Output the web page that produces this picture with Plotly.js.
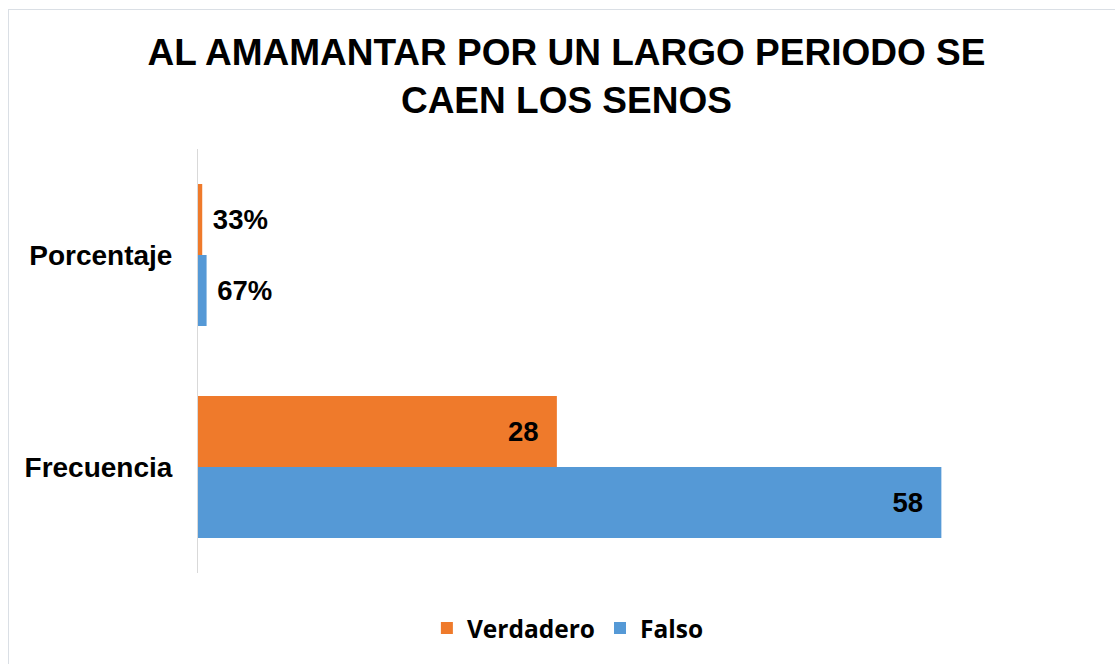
<!DOCTYPE html>
<html>
<head>
<meta charset="utf-8">
<script src="https://cdn.plot.ly/plotly-3.0.1.min.js"></script>
<style>
  html, body { margin: 0; padding: 0; background: #ffffff; }
  #wrap { position: relative; width: 1115px; height: 664px; overflow: hidden; }
  #frame { position: absolute; left: 8px; top: 9px; width: 1120px; height: 700px; border: 1px solid #DADFE5; box-sizing: border-box; pointer-events: none; }
  #chart { position: absolute; left: 0; top: 0; width: 1115px; height: 664px; }
</style>
</head>
<body>
<div id="wrap">
  <div id="frame"></div>
  <div id="chart"></div>
</div>
<script>
const categories = ['Frecuencia', 'Porcentaje'];
const seriesNames = ['Falso', 'Verdadero'];
const falsoValues = [58, 0.67];
const verdaderoValues = [28, 0.33];
const falsoLabels = ['58', '67%'];
const verdaderoLabels = ['28', '33%'];
const chartTitle = 'AL AMAMANTAR POR UN LARGO PERIODO SE<br>CAEN LOS SENOS';

const FONT = 'Arial, "Liberation Sans", sans-serif';
const NB = '\u00a0';

function labelText(labels) {
  return labels.map(function (t, i) {
    return i === 0 ? t + NB + NB : NB + t;
  });
}

const textFont = { family: FONT, size: 27.5, color: '#000000', weight: 'bold' };

const traces = [
  {
    type: 'bar', orientation: 'h', name: seriesNames[0],
    y: categories, x: falsoValues,
    text: labelText(falsoLabels),
    textposition: ['inside', 'outside'],
    insidetextanchor: 'end',
    textfont: textFont, insidetextfont: textFont, outsidetextfont: textFont,
    constraintext: 'none', cliponaxis: false,
    marker: { color: '#5599D6' },
    hoverinfo: 'none'
  },
  {
    type: 'bar', orientation: 'h', name: seriesNames[1],
    y: categories, x: verdaderoValues,
    text: labelText(verdaderoLabels),
    textposition: ['inside', 'outside'],
    insidetextanchor: 'end',
    textfont: textFont, insidetextfont: textFont, outsidetextfont: textFont,
    constraintext: 'none', cliponaxis: false,
    marker: { color: '#EF7A2B' },
    hoverinfo: 'none'
  }
];

const layout = {
  width: 1115, height: 664,
  paper_bgcolor: 'rgba(0,0,0,0)', plot_bgcolor: 'rgba(0,0,0,0)',
  margin: { l: 198, r: 148, t: 149, b: 91, pad: 0 },
  barmode: 'group', bargap: 0.33, bargroupgap: 0,
  title: {
    text: chartTitle,
    font: { family: FONT, size: 37, color: '#000000', weight: 'bold' },
    x: 0.508, xref: 'container', xanchor: 'center',
    y: 1 - 65 / 664, yref: 'container', yanchor: 'middle'
  },
  xaxis: {
    range: [0, 60], showgrid: false, zeroline: false, showline: false,
    showticklabels: false, ticks: '', fixedrange: true
  },
  yaxis: {
    type: 'category', categoryorder: 'array', categoryarray: categories,
    showgrid: false, zeroline: false,
    showline: true, linecolor: '#D9D9D9', linewidth: 1,
    ticks: '', ticklabelstandoff: 19,
    tickfont: { family: FONT, size: 28, color: '#000000', weight: 'bold' },
    fixedrange: true
  },
  showlegend: true,
  legend: {
    orientation: 'h', traceorder: 'reversed',
    x: 0.481, xanchor: 'center', y: -0.13, yanchor: 'middle',
    font: { family: '"Open Sans", "Noto Sans", sans-serif', size: 24.5, color: '#000000', weight: 'bold' },
    itemclick: false, itemdoubleclick: false
  }
};

Plotly.newPlot('chart', traces, layout, { displayModeBar: false, staticPlot: true });
</script>
</body>
</html>
